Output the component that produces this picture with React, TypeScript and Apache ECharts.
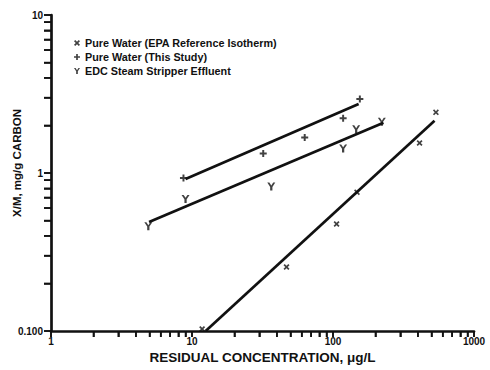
import React, { useEffect, useRef } from "react";
import * as echarts from "echarts";

const FONT = '"Liberation Sans", Arial, Helvetica, sans-serif';

const seriesNames = [
  "Pure Water (EPA Reference Isotherm)",
  "Pure Water (This Study)",
  "EDC Steam Stripper Effluent",
];

const yTitle = "X/M, mg/g CARBON";
const xTitle = "RESIDUAL CONCENTRATION, μg/L";

// measured points [residual concentration µg/L, X/M mg/g]
const epaPoints = [
  [537, 2.42],
  [411, 1.55],
  [148, 0.755],
  [106, 0.476],
  [46.8, 0.254],
  [11.8, 0.103],
];
const thisStudyPoints = [
  [8.7, 0.93],
  [32, 1.33],
  [63, 1.68],
  [118, 2.22],
  [155, 2.94],
];
const edcPoints = [
  [4.9, 0.46],
  [9.0, 0.685],
  [36.5, 0.82],
  [118, 1.43],
  [146, 1.89],
  [222, 2.11],
];

// fitted isotherm lines (end points)
const epaFit = [
  [12.5, 0.1],
  [525, 2.14],
];
const thisStudyFit = [
  [9.0, 0.916],
  [152, 2.73],
];
const edcFit = [
  [4.96, 0.49],
  [228, 2.08],
];

// tick values
const xTicks = [1, 2, 3, 4, 5, 6, 7, 8, 9, 10, 20, 30, 40, 50, 60, 70, 80, 90, 100, 200, 300, 400, 500, 600, 700, 800, 900, 1000];
const yTicks = [0.1, 0.2, 0.3, 0.4, 0.5, 0.6, 0.7, 0.8, 0.9, 1, 2, 3, 4, 5, 6, 7, 8, 9, 10];

const SYM_X = "path://M0,2L2,0L5,3L8,0L10,2L7,5L10,8L8,10L5,7L2,10L0,8L3,5Z";
const SYM_PLUS = "path://M3.6,0H6.4V3.6H10V6.4H6.4V10H3.6V6.4H0V3.6H3.6Z";
const SYM_Y = "path://M0,0L2.6,0L5,3.6L7.4,0L10,0L6.4,5.4L6.4,10L3.6,10L3.6,5.4Z";

export default function App() {
  const ref = useRef<HTMLDivElement>(null);
  useEffect(() => {
    if (!ref.current) return;
    const chart = echarts.init(ref.current, null, { renderer: "svg" });
    const markerStyle = { color: "#111" };
    const lineStyle = { color: "#111", width: 2.7 };
    const tickSeries = (axis: "x" | "y", values: number[], len: number) => ({
      type: "custom",
      name: axis + "ticks",
      silent: true,
      clip: false,
      z: 6,
      data: values.map((v) => (axis === "x" ? [v, 1] : [10, v])),
      renderItem: (params: any, api: any) => {
        const p = api.coord([api.value(0), api.value(1)]);
        const cs = params.coordSys;
        const shape =
          axis === "x"
            ? { x: p[0] - 0.8, y: cs.y + cs.height, width: 1.6, height: len }
            : { x: cs.x - len, y: p[1] - 0.8, width: len, height: 1.6 };
        return {
          type: "rect",
          shape,
          style: { fill: "#111", stroke: null },
        };
      },
    });
    chart.setOption({
      animation: false,
      backgroundColor: "#fff",
      textStyle: { fontFamily: FONT },
      grid: { left: 51, right: 16, top: 15, bottom: 39, containLabel: false, outerBoundsMode: "none" },
      graphic: [
        {
          type: "text",
          x: 17,
          y: 163,
          rotation: Math.PI / 2,
          style: {
            text: yTitle,
            font: 'bold 11.5px "Liberation Sans", Arial, sans-serif',
            fill: "#111",
            align: "center",
            verticalAlign: "middle",
          },
        },
      ],
      legend: {
        data: seriesNames,
        orient: "vertical",
        left: 74,
        top: 37,
        itemWidth: 6,
        itemHeight: 6,
        itemGap: 2,
        padding: 0,
        selectedMode: false,
        textStyle: {
          fontFamily: FONT,
          fontWeight: "bold",
          fontSize: 10.8,
          color: "#111",
          lineHeight: 12,
        },
      },
      xAxis: {
        type: "log",
        logBase: 10,
        min: 1,
        max: 1000,
        name: xTitle,
        nameLocation: "middle",
        nameGap: 16,
        nameTextStyle: { fontFamily: FONT, fontWeight: "bold", fontSize: 13.5, color: "#111" },
        axisLine: { show: true, lineStyle: { color: "#111", width: 2.7 } },
        axisTick: {
          show: true,
          length: 6,
          customValues: xTicks,
          lineStyle: { color: "#111", width: 1.6 },
        },
        axisLabel: {
          show: true,
          margin: 5,
          fontFamily: FONT,
          fontWeight: "bold",
          fontSize: 10,
          color: "#111",
          formatter: (v: number) => String(Math.round(v)),
        },
        splitLine: { show: false },
        minorTick: { show: false },
      },
      yAxis: {
        type: "log",
        logBase: 10,
        min: 0.1,
        max: 10,
        axisLine: { show: true, lineStyle: { color: "#111", width: 2.7 } },
        axisTick: {
          show: true,
          length: 7,
          customValues: yTicks,
          lineStyle: { color: "#111", width: 1.6 },
        },
        axisLabel: {
          show: true,
          margin: 8,
          fontFamily: FONT,
          fontWeight: "bold",
          fontSize: 10,
          color: "#111",
          formatter: (v: number) => (v < 0.5 ? "0.100" : String(Math.round(v))),
        },
        splitLine: { show: false },
      },
      series: [
        {
          name: seriesNames[0],
          type: "scatter",
          data: epaPoints,
          symbol: SYM_X,
          symbolSize: 6,
          itemStyle: markerStyle,
          clip: false,
          z: 5,
        },
        {
          name: seriesNames[1],
          type: "scatter",
          data: thisStudyPoints,
          symbol: SYM_PLUS,
          symbolSize: 7,
          itemStyle: markerStyle,
          clip: false,
          z: 5,
        },
        {
          name: seriesNames[2],
          type: "scatter",
          data: edcPoints,
          symbol: SYM_Y,
          symbolSize: 8,
          itemStyle: markerStyle,
          clip: false,
          z: 5,
        },
        { type: "line", data: epaFit, showSymbol: false, lineStyle, silent: true, z: 4 },
        { type: "line", data: thisStudyFit, showSymbol: false, lineStyle, silent: true, z: 4 },
        { type: "line", data: edcFit, showSymbol: false, lineStyle, silent: true, z: 4 },
        tickSeries("x", xTicks, 6),
        tickSeries("y", yTicks, 7),
      ],
    });
    return () => chart.dispose();
  }, []);
  return (
    <div
      ref={ref}
      style={{ position: "fixed", left: 0, top: 0, width: 490, height: 370, background: "#fff" }}
    />
  );
}
